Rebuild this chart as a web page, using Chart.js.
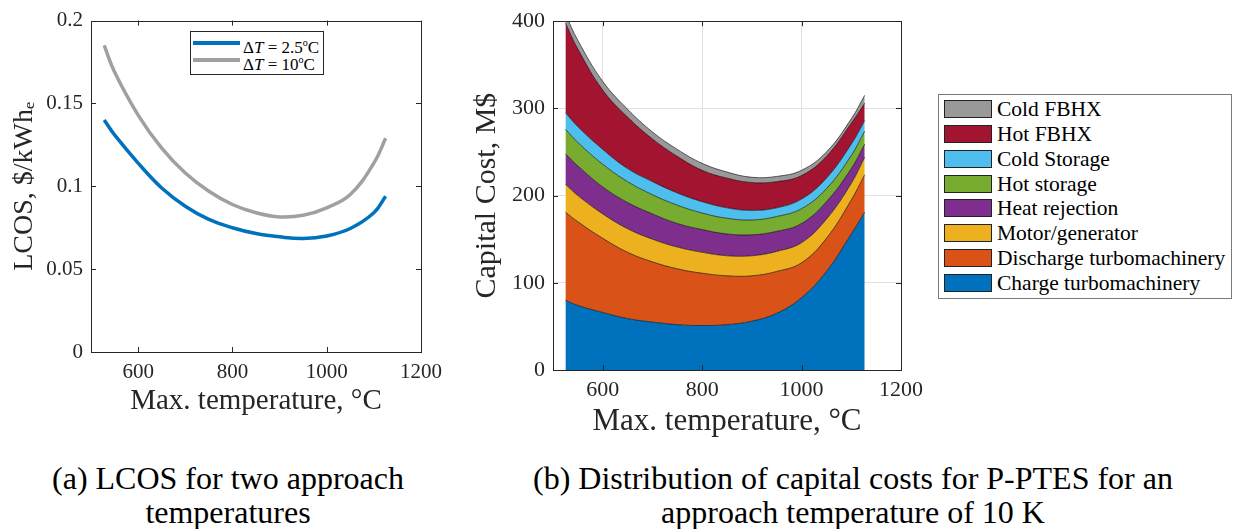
<!DOCTYPE html>
<html>
<head>
<meta charset="utf-8">
<script src="https://cdn.jsdelivr.net/npm/chart.js@4.4.0/dist/chart.umd.min.js"></script>
<style>
body { margin: 0; background: #fff; width: 1233px; height: 529px; overflow: hidden; position: relative; font-family: "Liberation Serif", serif; }
canvas { position: absolute; top: 0; }
#lcos { left: 0; }
#cost { left: 460px; }
.legend { position: absolute; background: #fff; box-sizing: border-box; font-family: "Liberation Serif", serif; }
.legend .row { position: absolute; left: 0; white-space: nowrap; }
.caption { position: absolute; text-align: center; font-family: "Liberation Serif", serif; font-size: 32px; line-height: 34px; color: #000; }
</style>
</head>
<body>
<canvas id="lcos" width="450" height="420"></canvas>
<canvas id="cost" width="470" height="440"></canvas>
<div id="legA" class="legend" style="left:190px;top:31px;width:134px;height:44px;border:1px solid #262626;"></div>
<div id="legB" class="legend" style="left:938px;top:94px;width:294px;height:205px;border:1px solid #7a7a7a;"></div>
<div class="caption" style="left:28px;top:461px;width:400px;">(a) LCOS for two approach<br>temperatures</div>
<div class="caption" style="left:503px;top:461px;width:700px;">(b) Distribution of capital costs for P-PTES for an<br>approach temperature of 10 K</div>
<script>
// (a) LCOS vs max temperature
const tempA = [528, 550, 600, 650, 700, 750, 800, 850, 900, 950, 1000, 1050, 1100, 1125];
const lcos25 = [0.140, 0.131, 0.114, 0.099, 0.088, 0.080, 0.075, 0.0715, 0.0695, 0.0685, 0.070, 0.0745, 0.084, 0.094];
const lcos10 = [0.185, 0.169, 0.143, 0.123, 0.108, 0.097, 0.089, 0.084, 0.0815, 0.0825, 0.087, 0.095, 0.114, 0.129];
const seriesA = ['ΔT = 2.5°C', 'ΔT = 10°C'];
const xTicks = [600, 800, 1000, 1200];
const yTicksA = [0, 0.05, 0.1, 0.15, 0.2];

// (b) capital cost breakdown, M$
const tempB = [525, 550, 600, 650, 700, 750, 800, 850, 900, 950, 1000, 1050, 1100, 1127];
const chargeTurbo = [80, 74, 66, 59, 55, 52, 51, 52, 56, 65, 83, 113, 156, 181];
const dischargeTurbo = [101, 96, 85, 76, 69, 64, 60, 56, 52, 48, 40, 38, 39, 43];
const motorGen = [32, 30, 28, 27, 26, 25, 24, 23, 23, 23, 23, 22, 19, 20];
const heatRejection = [35, 34, 31, 30, 29, 27, 26, 25, 24, 23, 22, 20, 17, 15];
const hotStorage = [28, 27, 26, 24, 22, 21, 19, 18, 17, 17, 17, 15, 15, 15];
const coldStorage = [19, 18, 17, 15, 15, 14, 13, 12, 11, 10, 11, 12, 13, 12];
const hotFBHX = [103, 89, 68, 59, 49, 42, 36, 34, 32, 30, 27, 25, 24, 20];
const coldFBHX = [10, 10, 10, 9, 8, 8, 8, 7, 6, 6, 6, 5, 5, 9];
const componentNames = ['Charge turbomachinery', 'Discharge turbomachinery', 'Motor/generator', 'Heat rejection', 'Hot storage', 'Cold Storage', 'Hot FBHX', 'Cold FBHX'];
const componentValues = [chargeTurbo, dischargeTurbo, motorGen, heatRejection, hotStorage, coldStorage, hotFBHX, coldFBHX];
const yTicksB = [0, 100, 200, 300, 400];

const colorsA = ['#0072BD', '#A0A0A0'];
const colorsB = ['#0072BD', '#D95319', '#EDB120', '#7E2F8E', '#77AC30', '#4DBEEE', '#A2142F', '#999999'];
const serif = '"Liberation Serif", serif';
const ink = '#262626';

Chart.defaults.font.family = serif;

// box + inward tick marks like matlab
const frame = {
    id: 'frame',
    afterDatasetsDraw(chart) {
        const { ctx, chartArea: a, scales: { x, y } } = chart;
        ctx.save();
        ctx.strokeStyle = ink;
        ctx.lineWidth = 1;
        ctx.beginPath();
        x.ticks.forEach(t => {
            const p = Math.round(x.getPixelForValue(t.value)) + 0.5;
            ctx.moveTo(p, a.bottom); ctx.lineTo(p, a.bottom - 5);
            ctx.moveTo(p, a.top); ctx.lineTo(p, a.top + 5);
        });
        y.ticks.forEach(t => {
            const p = Math.round(y.getPixelForValue(t.value)) + 0.5;
            ctx.moveTo(a.left, p); ctx.lineTo(a.left + 5, p);
            ctx.moveTo(a.right, p); ctx.lineTo(a.right - 5, p);
        });
        ctx.stroke();
        ctx.strokeRect(Math.round(a.left) + 0.5, Math.round(a.top) + 0.5, Math.round(a.width), Math.round(a.height));
        ctx.restore();
    }
};

function axes(o) {
    return {
        x: {
            type: 'linear', min: 500, max: 1200,
            afterBuildTicks: s => { s.ticks = xTicks.map(v => ({ value: v })); },
            afterFit: s => { s.height = o.xh; },
            grid: { display: o.grid, color: '#e1e1e1', drawTicks: false },
            border: { display: false },
            ticks: { padding: o.xpad, color: ink, font: { family: serif, size: o.tick }, callback: v => String(v) },
            title: { display: true, text: 'Max. temperature, °C', color: ink, padding: { top: 0, bottom: o.xtPad }, font: { family: serif, size: o.xt, lineHeight: 1 } }
        },
        y: {
            type: 'linear', min: o.yTicks[0], max: o.yTicks[o.yTicks.length - 1], stacked: o.stacked,
            afterBuildTicks: s => { s.ticks = o.yTicks.map(v => ({ value: v })); },
            afterFit: s => { s.width = o.yw; },
            grid: { display: o.grid, color: '#e1e1e1', drawTicks: false },
            border: { display: false },
            ticks: { padding: 8, color: ink, font: { family: serif, size: o.tick }, callback: v => String(v) },
            title: { display: true, text: o.ytitle, color: ink, padding: { top: o.ytPad, bottom: 0 }, font: { family: serif, size: o.yt, lineHeight: 1 } }
        }
    };
}

new Chart(document.getElementById('lcos'), {
    type: 'line',
    data: {
        datasets: [lcos25, lcos10].map((vals, i) => ({
            label: seriesA[i],
            data: tempA.map((t, j) => ({ x: t, y: vals[j] })),
            borderColor: colorsA[i],
            borderWidth: 3.5,
            pointRadius: 0,
            fill: false,
            tension: 0.4
        }))
    },
    options: {
        responsive: false, animation: false, devicePixelRatio: 1,
        layout: { padding: { top: 19, right: 25, bottom: 0, left: 0 } },
        plugins: { legend: { display: false }, tooltip: { enabled: false } },
        scales: axes({ xh: 68, yw: 91, xpad: 8, tick: 21, xt: 29, xtPad: 4, yt: 28, ytPad: 11, grid: false, stacked: false, yTicks: yTicksA, ytitle: 'LCOS, $/kWhₑ' })
    },
    plugins: [frame]
});

new Chart(document.getElementById('cost'), {
    type: 'line',
    data: {
        datasets: componentValues.map((vals, i) => ({
            label: componentNames[i],
            data: tempB.map((t, j) => ({ x: t, y: vals[j] })),
            borderColor: '#000',
            borderWidth: 0.6,
            backgroundColor: colorsB[i],
            pointRadius: 0,
            fill: i === 0 ? 'origin' : '-1',
            tension: 0.4
        }))
    },
    options: {
        responsive: false, animation: false, devicePixelRatio: 1,
        layout: { padding: { top: 21, right: 27, bottom: 0, left: 0 } },
        plugins: { legend: { display: false }, tooltip: { enabled: false } },
        scales: axes({ xh: 70, yw: 93, xpad: 7, tick: 22, xt: 31, xtPad: 3, yt: 30, ytPad: 12, grid: true, stacked: true, yTicks: yTicksB, ytitle: 'Capital Cost, M$' })
    },
    plugins: [frame]
});

// legend (a): line samples inside the plot
const legA = document.getElementById('legA');
seriesA.forEach((name, i) => {
    const row = document.createElement('div');
    row.className = 'row';
    row.style.top = (i * 17 + 1) + 'px';
    row.style.height = '20px';
    row.innerHTML = '<span style="position:absolute;left:2px;top:8px;width:47px;height:4px;background:' + colorsA[i] + '"></span>' +
        '<span style="position:absolute;left:52px;top:0;font-size:17px;line-height:20px;">' +
        name.replace('T', '<i>T</i>').replace('°', '<sup style="font-size:10px;">o</sup>') + '</span>';
    legA.appendChild(row);
});

// legend (b): patches, top of stack first
const legB = document.getElementById('legB');
componentNames.slice().reverse().forEach((name, i) => {
    const k = componentNames.length - 1 - i;
    const row = document.createElement('div');
    row.className = 'row';
    row.style.top = (5 + i * 24.86) + 'px';
    row.style.height = '20px';
    row.innerHTML = '<span style="position:absolute;left:5px;top:0;width:48px;height:18px;box-sizing:border-box;border:1px solid #222;background:' + colorsB[k] + '"></span>' +
        '<span style="position:absolute;left:58px;top:-3px;font-size:21.5px;line-height:24px;">' + name + '</span>';
    legB.appendChild(row);
});
</script>
</body>
</html>
